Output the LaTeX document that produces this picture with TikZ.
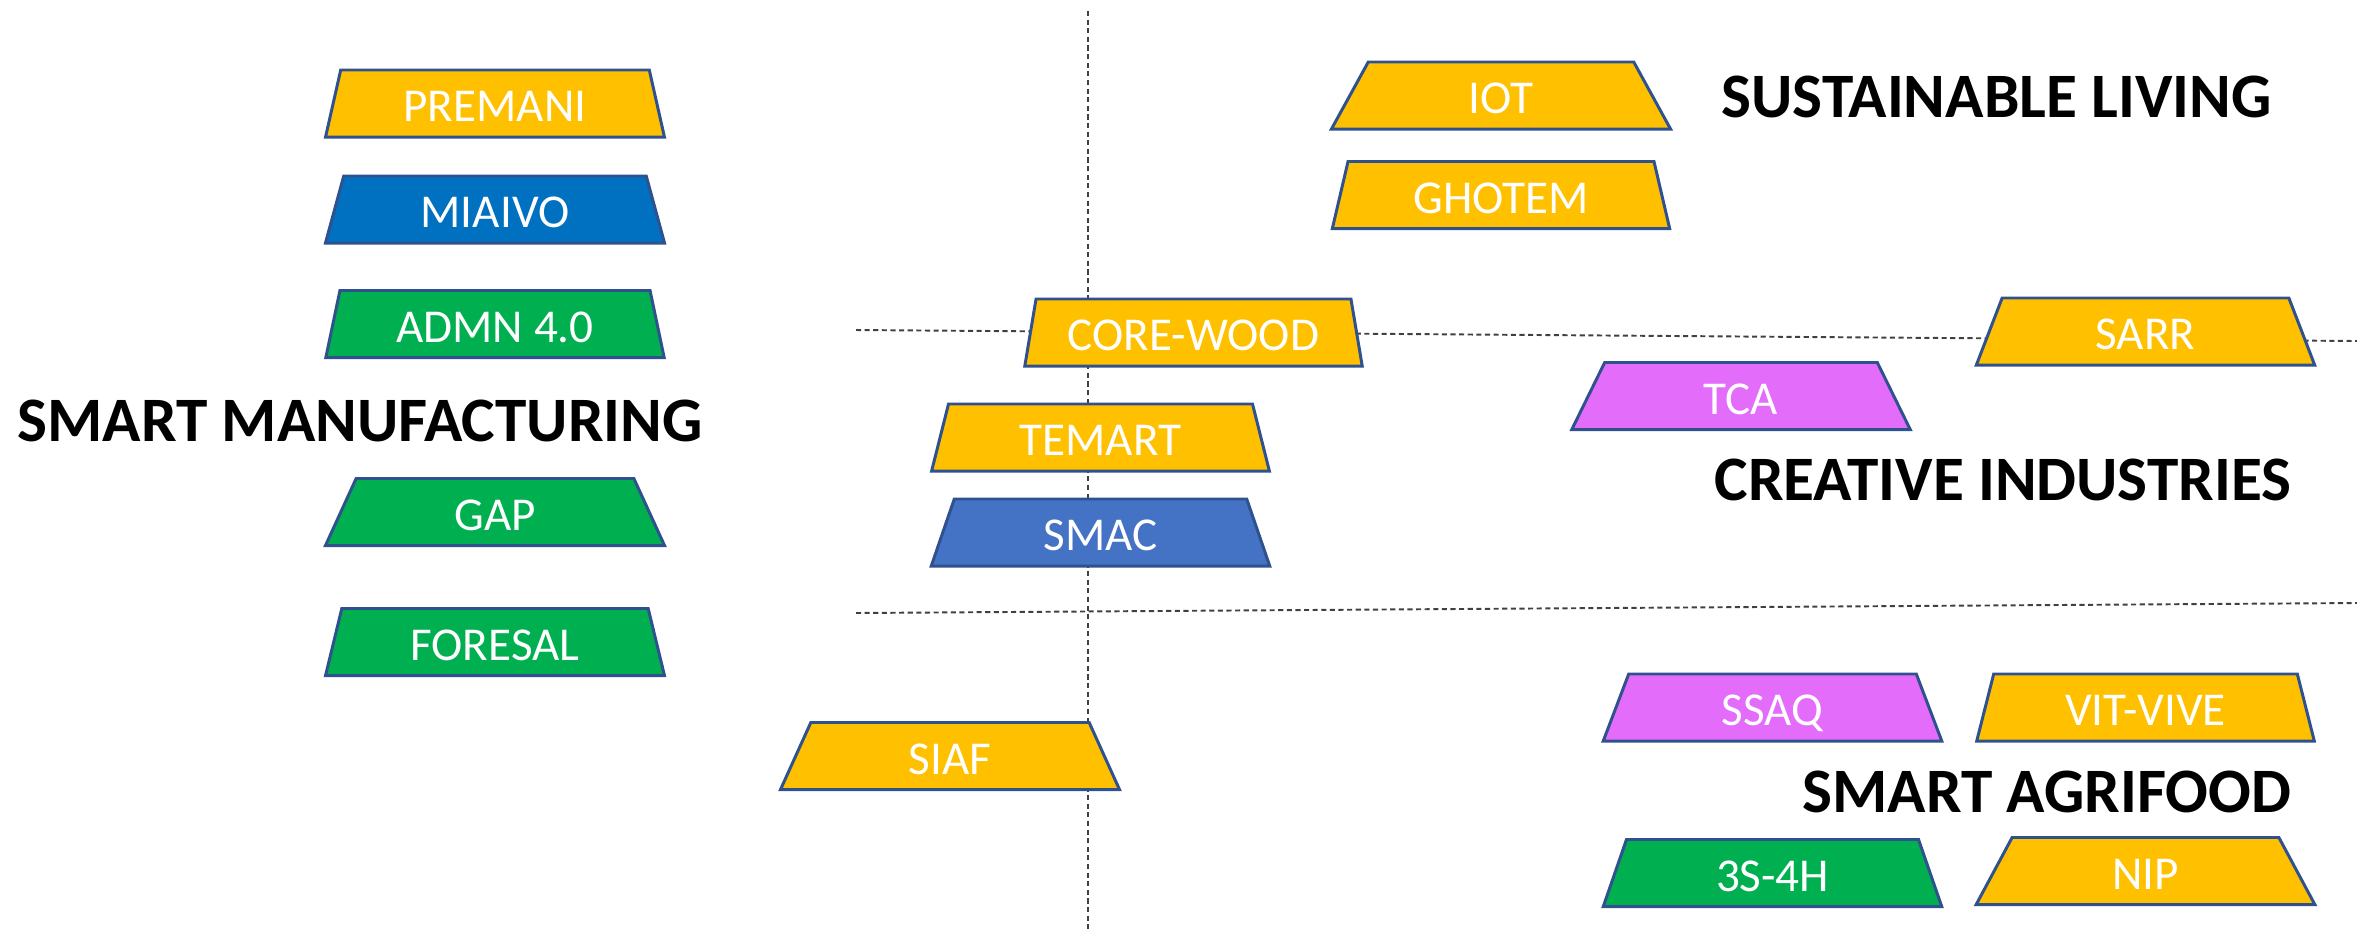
\documentclass[tikz,border=0pt]{standalone}
\usepackage{fontspec}
\setmainfont{Carlito}
\usetikzlibrary{shapes.geometric}
\definecolor{cyel}{HTML}{FFC000}
\definecolor{cblue}{HTML}{0070C0}
\definecolor{cgreen}{HTML}{00B050}
\definecolor{cblueb}{HTML}{4472C4}
\definecolor{cpink}{HTML}{E46CFA}
\definecolor{cedge}{HTML}{2F528F}
\definecolor{cgrid}{HTML}{404040}
\begin{document}
\begin{tikzpicture}[x=0.01cm,y=-0.01cm,
  box/.style={trapezium, trapezium stretches=true, trapezium left angle=76,
    trapezium right angle=76, minimum width=3.39cm, minimum height=0.67cm,
    draw=cedge, line width=0.85pt, text=white,
    font=\fontsize{13.4}{16}\selectfont, inner sep=0pt,
    text height=0.36cm, text depth=0pt},
  head/.style={font=\bfseries\fontsize{18}{22}\selectfont, inner sep=0pt},
  gridline/.style={draw=cgrid, line width=0.55pt, dash pattern=on 1.45pt off 1pt}]
\useasboundingbox (0,0) rectangle (2357,929);
% dashed guide lines
\coordinate (v1) at (1088,11);
\coordinate (v2) at (1088,929);
\coordinate (h1a) at (856,330);
\coordinate (h1b) at (2357,341);
\coordinate (h2a) at (856,613);
\coordinate (h2b) at (2357,603);
\draw[gridline] (v1) -- (v2);
\draw[gridline] (h1a) -- (h1b);
\draw[gridline] (h2a) -- (h2b);
% left column
\node[box, fill=cyel]   (premani) at (495,103.5) {PREMANI};
\node[box, fill=cblue]  (miaivo)  at (495,209.5) {MIAIVO};
\node[box, fill=cgreen] (admn)    at (495,324)   {ADMN 4.0};
\node[box, fill=cgreen] (gap)     at (495,512)   {GAP};
\node[box, fill=cgreen] (foresal) at (495,642)   {FORESAL};
% middle
\node[box, fill=cyel]   (corewood) at (1193.5,332.5) {CORE-WOOD};
\node[box, fill=cyel]   (temart)   at (1100.5,437.5) {TEMART};
\node[box, fill=cblueb] (smac)     at (1100.5,532.5) {SMAC};
\node[box, fill=cyel]   (siaf)     at (950,756)      {SIAF};
% upper right
\node[box, fill=cyel]   (iot)    at (1501,95.5) {IOT};
\node[box, fill=cyel]   (ghotem) at (1501,195)  {GHOTEM};
\node[box, fill=cyel]   (sarr)   at (2145.5,331.5) {SARR};
\node[box, fill=cpink]  (tca)    at (1741,396)  {TCA};
% lower right
\node[box, fill=cpink]  (ssaq)    at (1772.5,707.5) {SSAQ};
\node[box, fill=cyel]   (vitvive) at (2145.5,707.5) {VIT-VIVE};
\node[box, fill=cgreen] (s3h4)    at (1772.5,873)   {3S-4H};
\node[box, fill=cyel]   (nip)     at (2145.5,871)   {NIP};
% headings
\node[head, anchor=west] (hsm) at (17,421)   {SMART MANUFACTURING};
\node[head, anchor=west] (hsl) at (1721,97)  {SUSTAINABLE LIVING};
\node[head, anchor=east] (hci) at (2292,480) {CREATIVE INDUSTRIES};
\node[head, anchor=east] (hsa) at (2292,792) {SMART AGRIFOOD};
\end{tikzpicture}
\end{document}
